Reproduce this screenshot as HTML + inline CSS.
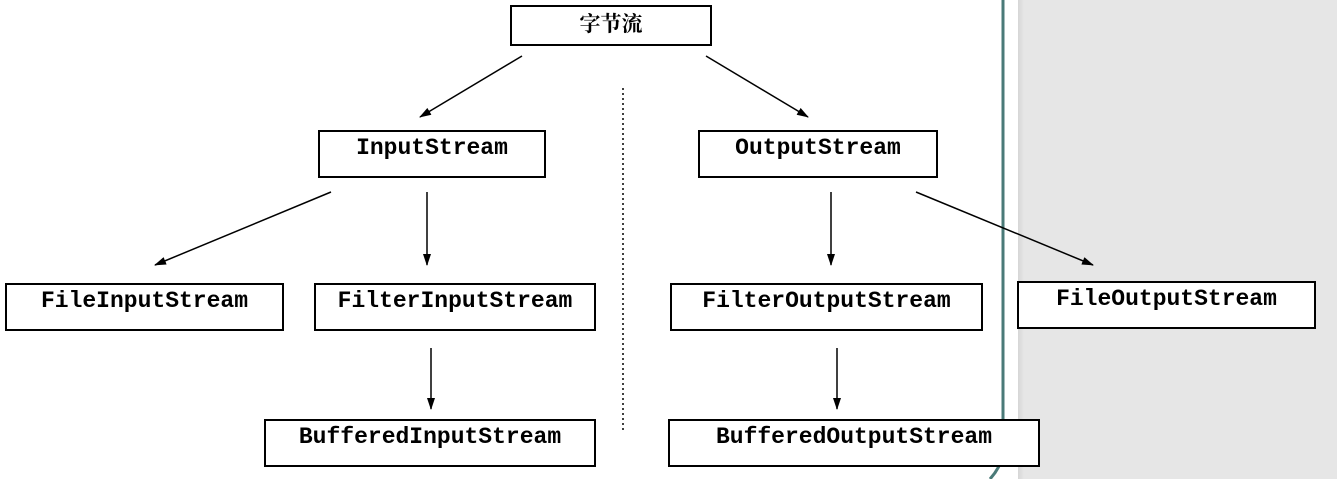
<!DOCTYPE html>
<html><head><meta charset="utf-8"><style>
body{margin:0;width:1337px;height:479px;overflow:hidden;background:#fff;position:relative}
.g{position:absolute;left:1018px;top:0;width:319px;height:479px;background:linear-gradient(90deg,#d6d6d6 0,#e6e6e6 6px,#e6e6e6 100%)}
.b{position:absolute;box-sizing:border-box;border:2px solid #000;background:#fff;text-align:center;font:bold 23px "Liberation Mono",monospace;line-height:28px;padding-top:2px;color:#000}
</style></head><body>
<div class="g"></div>
<svg width="1337" height="479" style="position:absolute;left:0;top:0">
<defs><marker id="a" markerWidth="12" markerHeight="8" refX="11" refY="4" orient="auto" markerUnits="userSpaceOnUse"><path d="M0,0L12,4L0,8z" fill="#000"/></marker></defs>
<path d="M1003,0V455Q1000,468 990,479" stroke="#4a7a78" stroke-width="3" fill="none"/>
<line x1="623" y1="88" x2="623" y2="430" stroke="#000" stroke-width="1.5" stroke-dasharray="2,3"/>
<g stroke="#000" stroke-width="1.5" marker-end="url(#a)">
<line x1="522" y1="56" x2="420" y2="117"/>
<line x1="706" y1="56" x2="808" y2="117"/>
<line x1="331" y1="192" x2="155" y2="265"/>
<line x1="427" y1="192" x2="427" y2="265"/>
<line x1="831" y1="192" x2="831" y2="265"/>
<line x1="916" y1="192" x2="1093" y2="265"/>
<line x1="431" y1="348" x2="431" y2="409"/>
<line x1="837" y1="348" x2="837" y2="409"/>
</g></svg>
<div class="b" style="left:510px;top:5px;width:202px;height:41px;font-family:'Liberation Serif','Noto Serif CJK SC',serif;font-weight:bold;font-size:21px;padding-top:3px">字节流</div>
<div class="b" style="left:318px;top:130px;width:228px;height:48px">InputStream</div>
<div class="b" style="left:698px;top:130px;width:240px;height:48px">OutputStream</div>
<div class="b" style="left:5px;top:283px;width:279px;height:48px">FileInputStream</div>
<div class="b" style="left:314px;top:283px;width:282px;height:48px">FilterInputStream</div>
<div class="b" style="left:670px;top:283px;width:313px;height:48px">FilterOutputStream</div>
<div class="b" style="left:1017px;top:281px;width:299px;height:48px">FileOutputStream</div>
<div class="b" style="left:264px;top:419px;width:332px;height:48px">BufferedInputStream</div>
<div class="b" style="left:668px;top:419px;width:372px;height:48px">BufferedOutputStream</div>
</body></html>
